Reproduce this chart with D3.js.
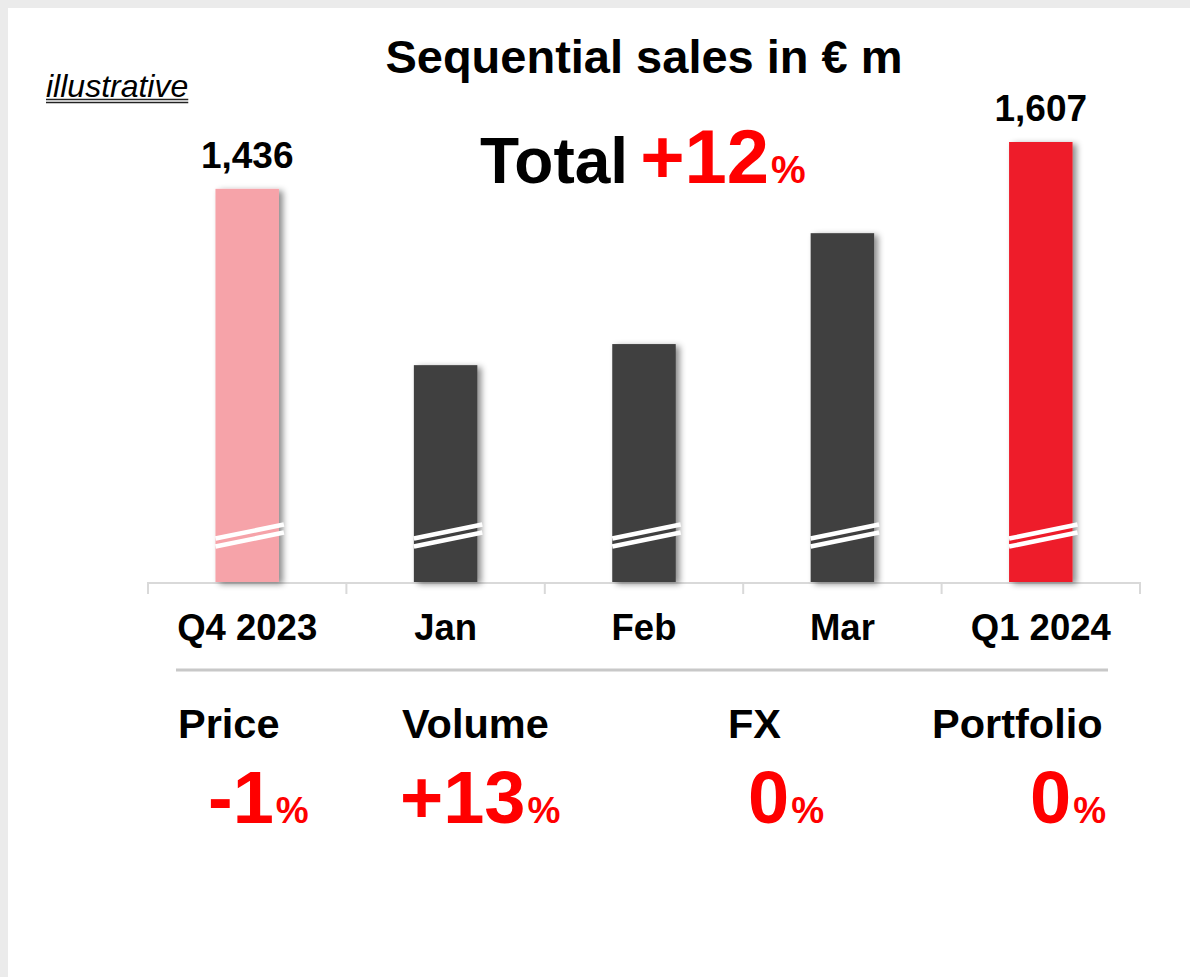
<!DOCTYPE html>
<html>
<head>
<meta charset="utf-8">
<script src="https://cdn.jsdelivr.net/npm/d3@7"></script>
<style>
  html, body { margin: 0; padding: 0; background: #ebebeb; }
  svg { display: block; }
  text { font-family: "Liberation Sans", Arial, sans-serif; }
</style>
</head>
<body>
<div id="chart"></div>
<script>
// data (monthly bars are "illustrative")
const categories = ['Q4 2023', 'Jan', 'Feb', 'Mar', 'Q1 2024'];
const sales = [1436, 792, 869, 1274, 1607];
const labelled = [true, false, false, false, true];
const drivers = ['Price', 'Volume', 'FX', 'Portfolio'];
const driverChanges = [-1, 13, 0, 0];
const totalChange = 12;

const width = 1190, height = 977;
const barColors = ['#f6a3a9', '#404040', '#404040', '#404040', '#ee1c2b'];
const red = '#ff0000';
const baseY = 582;

const svg = d3.select('#chart')
  .append('svg')
  .attr('width', width)
  .attr('height', height);

// white slide on grey frame
svg.append('rect')
  .attr('x', 8).attr('y', 8)
  .attr('width', width - 8).attr('height', height - 8)
  .attr('fill', '#ffffff');

const defs = svg.append('defs');
const shadow = defs.append('filter')
  .attr('id', 'bar-shadow')
  .attr('x', '-20%').attr('y', '-5%')
  .attr('width', '150%').attr('height', '115%');
shadow.append('feDropShadow')
  .attr('dx', 4).attr('dy', 2)
  .attr('stdDeviation', 3)
  .attr('flood-color', '#000')
  .attr('flood-opacity', 0.45);

const x = d3.scaleBand()
  .domain(categories)
  .range([148, 1140])
  .paddingInner(0.68)
  .paddingOuter(0.34);

const y = d3.scaleLinear()
  .domain([0, 1607])
  .range([baseY, 142]);

// title + note
svg.append('text')
  .attr('x', 644).attr('y', 73)
  .attr('text-anchor', 'middle')
  .attr('font-size', 47).attr('font-weight', 'bold')
  .text('Sequential sales in € m');

const note = svg.append('text')
  .attr('x', 46).attr('y', 97)
  .attr('font-size', 32).attr('font-style', 'italic')
  .text('illustrative');
const noteW = note.node().getComputedTextLength();
[99.5, 102.5].forEach(yy => {
  svg.append('line')
    .attr('x1', 46).attr('x2', 46 + noteW)
    .attr('y1', yy).attr('y2', yy)
    .attr('stroke', '#222').attr('stroke-width', 1.3);
});

// total
const total = svg.append('text')
  .attr('x', 480).attr('y', 183)
  .attr('font-weight', 'bold');
total.append('tspan').attr('font-size', 64).text('Total');
total.append('tspan').attr('font-size', 76).attr('fill', red).attr('dx', 12)
  .text((totalChange > 0 ? '+' : '') + totalChange);
total.append('tspan').attr('font-size', 39).attr('fill', red).attr('dx', 2).text('%');

// axis
const axis = svg.append('g')
  .attr('transform', `translate(0,${baseY})`)
  .call(d3.axisBottom(x).tickSize(0).tickFormat(''));
axis.select('.domain').remove();
svg.append('line')
  .attr('x1', 148).attr('x2', 1140)
  .attr('y1', baseY + 1).attr('y2', baseY + 1)
  .attr('stroke', '#d9d9d9').attr('stroke-width', 2);
const step = x.step();
d3.range(categories.length + 1).forEach(i => {
  const tx = x.range()[0] + i * step;
  svg.append('line')
    .attr('x1', tx).attr('x2', tx)
    .attr('y1', baseY).attr('y2', baseY + 12)
    .attr('stroke', '#d9d9d9').attr('stroke-width', 2);
});

// bars
svg.append('g')
  .selectAll('rect')
  .data(sales)
  .enter()
  .append('rect')
  .attr('x', (d, i) => x(categories[i]))
  .attr('y', d => y(d))
  .attr('width', x.bandwidth())
  .attr('height', d => baseY - y(d))
  .attr('fill', (d, i) => barColors[i])
  .style('filter', 'url(#bar-shadow)');

// axis-break marks
const slope = 14 / (x.bandwidth() + 5);
const breaks = svg.append('g');
categories.forEach(c => {
  const x0 = x(c), x1 = x0 + x.bandwidth() + 5;
  [baseY - 43.5, baseY - 35.5].forEach(yl => {
    breaks.append('line')
      .attr('x1', x0).attr('y1', yl)
      .attr('x2', x1).attr('y2', yl - slope * (x1 - x0))
      .attr('stroke', '#ffffff').attr('stroke-width', 4.5);
  });
});

// value labels
svg.append('g')
  .selectAll('text')
  .data(sales)
  .enter()
  .filter((d, i) => labelled[i])
  .append('text')
  .attr('x', (d, i) => x(categories[sales.indexOf(d)]) + x.bandwidth() / 2)
  .attr('y', d => y(d) - 21)
  .attr('text-anchor', 'middle')
  .attr('font-size', 37).attr('font-weight', 'bold')
  .text(d => d3.format(',')(d));

// category labels
svg.append('g')
  .selectAll('text')
  .data(categories)
  .enter()
  .append('text')
  .attr('x', d => x(d) + x.bandwidth() / 2)
  .attr('y', 640)
  .attr('text-anchor', 'middle')
  .attr('font-size', 36.5).attr('font-weight', 'bold')
  .text(d => d);

// separator
svg.append('line')
  .attr('x1', 176).attr('x2', 1108)
  .attr('y1', 670).attr('y2', 670)
  .attr('stroke', '#c8c8c8').attr('stroke-width', 3);

// drivers
const labelX = [178, 402, 728, 932];
const valueX = [208, 400, 748, 1030];
drivers.forEach((name, i) => {
  svg.append('text')
    .attr('x', labelX[i]).attr('y', 738)
    .attr('font-size', 41.5).attr('font-weight', 'bold')
    .text(name);
  const v = driverChanges[i];
  const t = svg.append('text')
    .attr('x', valueX[i]).attr('y', 823)
    .attr('font-weight', 'bold').attr('fill', red);
  t.append('tspan').attr('font-size', 74).text((v > 0 ? '+' : v < 0 ? '-' : '') + Math.abs(v));
  t.append('tspan').attr('font-size', 37).attr('dx', 2).text('%');
});
</script>
</body>
</html>
